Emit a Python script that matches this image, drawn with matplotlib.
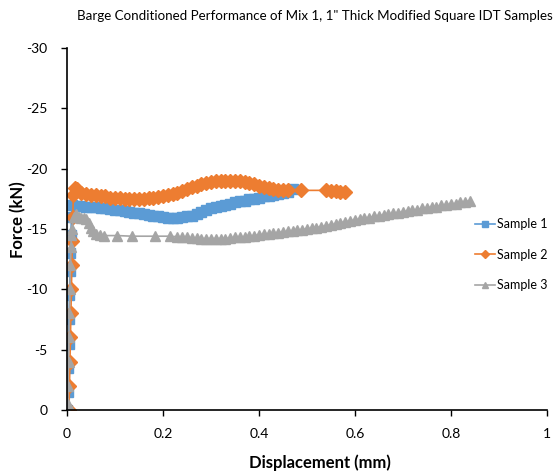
import matplotlib.pyplot as plt

plt.rcParams['font.family'] = ['Lato', 'DejaVu Sans']
plt.rcParams['axes.unicode_minus'] = False

# Sample 1 (blue)
disp1 = [0.0, 0.001, 0.002, 0.003, 0.004, 0.005, 0.006, 0.007, 0.008, 0.009, 0.010,
         0.02, 0.03, 0.04, 0.05, 0.06, 0.07, 0.08, 0.09,
         0.10, 0.11, 0.12, 0.13, 0.14, 0.15, 0.16, 0.17, 0.18, 0.19, 0.20, 0.21, 0.22, 0.23, 0.24,
         0.25, 0.26, 0.27, 0.28, 0.29, 0.30, 0.31, 0.32, 0.33, 0.34, 0.35, 0.36, 0.37, 0.38, 0.39,
         0.40, 0.41, 0.42, 0.43, 0.44, 0.45, 0.46, 0.47]
force1 = [0, -1.5, -3.5, -5.5, -7.5, -9.5, -11.5, -13, -14.5, -16, -17.0,
          -16.9, -16.9, -16.85, -16.8, -16.8, -16.75, -16.7, -16.65,
          -16.6, -16.55, -16.5, -16.4, -16.35, -16.3, -16.2, -16.15, -16.1, -16.05, -16.0, -15.95, -15.95, -15.95, -16.0,
          -16.05, -16.1, -16.25, -16.4, -16.55, -16.7, -16.8, -16.9, -17.0, -17.1, -17.2, -17.3, -17.35, -17.45, -17.5,
          -17.6, -17.7, -17.75, -17.85, -17.9, -18.0, -18.1, -18.3]

# Sample 2 (orange)
disp2 = [0.004, 0.005, 0.006, 0.007, 0.008, 0.009, 0.010, 0.011, 0.012, 0.013, 0.016,
         0.02, 0.03, 0.04, 0.05, 0.06, 0.07, 0.08, 0.09,
         0.10, 0.11, 0.12, 0.13, 0.14, 0.15, 0.16, 0.17, 0.18, 0.19, 0.20, 0.21, 0.22, 0.23, 0.24,
         0.25, 0.26, 0.27, 0.28, 0.29, 0.30, 0.31, 0.32, 0.33, 0.34, 0.35, 0.36, 0.37, 0.38, 0.39,
         0.40, 0.41, 0.42, 0.43, 0.44, 0.45, 0.46, 0.487, 0.54, 0.55, 0.56, 0.57, 0.58]
force2 = [0, -2, -4, -6, -8, -10, -12, -14, -16, -17.8, -18.4,
          -18.3, -18.0, -17.9, -17.8, -17.8, -17.7, -17.7, -17.6,
          -17.6, -17.55, -17.5, -17.5, -17.5, -17.5, -17.5, -17.55, -17.6, -17.65, -17.7, -17.8, -17.9, -18.0, -18.15,
          -18.3, -18.45, -18.6, -18.7, -18.8, -18.9, -18.95, -19.0, -19.0, -19.0, -19.0, -18.95, -18.9, -18.8, -18.7,
          -18.6, -18.5, -18.4, -18.3, -18.25, -18.2, -18.2, -18.2, -18.2, -18.15, -18.15, -18.1, -18.1]

# Sample 3 (grey)
disp3 = [0.0, 0.001, 0.002, 0.003, 0.004, 0.005, 0.006, 0.007, 0.008, 0.009, 0.010,
         0.014, 0.018, 0.025, 0.03, 0.035, 0.04, 0.045,
         0.05, 0.055, 0.06, 0.068, 0.077, 0.105, 0.135, 0.183, 0.215,
         0.23, 0.24, 0.25, 0.26, 0.27, 0.28, 0.29, 0.30, 0.31, 0.32, 0.33, 0.34, 0.35, 0.36, 0.37,
         0.38, 0.39, 0.40, 0.41, 0.42, 0.43, 0.44, 0.45, 0.46, 0.47, 0.48, 0.49,
         0.50, 0.51, 0.52, 0.53, 0.54, 0.55, 0.56, 0.57, 0.58, 0.59, 0.60, 0.61, 0.62, 0.63, 0.64,
         0.65, 0.66, 0.67, 0.68, 0.69, 0.70, 0.71, 0.72, 0.73, 0.74, 0.75, 0.76, 0.77, 0.78, 0.79,
         0.80, 0.81, 0.82, 0.83, 0.84]
force3 = [0, -0.5, -2, -4, -6, -8, -10, -12, -13.5, -14.5, -15,
          -16, -16.2, -16.0, -15.9, -15.9, -15.8, -15.5,
          -15.1, -14.8, -14.6, -14.5, -14.45, -14.45, -14.4, -14.4, -14.4,
          -14.35, -14.3, -14.3, -14.25, -14.25, -14.2, -14.2, -14.2, -14.2, -14.2, -14.2, -14.25, -14.3, -14.3, -14.35,
          -14.4, -14.45, -14.5, -14.55, -14.6, -14.65, -14.7, -14.75, -14.8, -14.85, -14.9, -14.95,
          -15.0, -15.05, -15.1, -15.2, -15.25, -15.35, -15.4, -15.5, -15.6, -15.65, -15.75, -15.8, -15.9, -15.95, -16.05,
          -16.1, -16.15, -16.2, -16.3, -16.35, -16.4, -16.5, -16.55, -16.6, -16.7, -16.75, -16.8, -16.85, -16.95, -17.0,
          -17.05, -17.1, -17.2, -17.25, -17.35]

xTicks = [0, 0.2, 0.4, 0.6, 0.8, 1]
xTickLabels = ['0', '0.2', '0.4', '0.6', '0.8', '1']
yTicks = [0, -5, -10, -15, -20, -25, -30]

fig = plt.figure(figsize=(5.59, 4.76), dpi=100)
ax = fig.add_axes([0.12, 0.139, 0.858, 0.76])

ax.plot(disp1, force1, color='#5B9BD5', marker='s', markersize=7.5, linewidth=1.2, label='Sample 1')
ax.plot(disp2, force2, color='#ED7D31', marker='D', markersize=7, linewidth=1.2, label='Sample 2')
ax.plot(disp3, force3, color='#A5A5A5', marker='^', markersize=7.5, linewidth=1.2, label='Sample 3')

ax.set_xlim(0, 1)
ax.set_ylim(0, -30)
ax.set_xticks(xTicks)
ax.set_xticklabels(xTickLabels)
ax.set_yticks(yTicks)
ax.tick_params(labelsize=10, length=4, width=1, color='black')
ax.tick_params(axis='x', pad=9)
ax.tick_params(axis='y', pad=10)
for side in ['top', 'right']:
    ax.spines[side].set_visible(False)
for side in ['left', 'bottom']:
    ax.spines[side].set_linewidth(1.2)

fig.text(0.563, 0.966, 'Barge Conditioned Performance of Mix 1, 1" Thick Modified Square IDT Samples',
         ha='center', va='center', fontsize=9.6)
fig.text(0.572, 0.027, 'Displacement (mm)', ha='center', va='center', fontsize=12, fontweight='bold')
fig.text(0.032, 0.538, 'Force (kN)', ha='center', va='center', rotation=90, fontsize=12, fontweight='bold')

leg = fig.legend(loc='upper left', bbox_to_anchor=(0.838, 1 - 212 / 476), frameon=False, fontsize=9,
                 handlelength=1.6, handletextpad=0.15, labelspacing=1.48, borderpad=0, markerscale=0.55)

plt.savefig('out.png', dpi=100)
